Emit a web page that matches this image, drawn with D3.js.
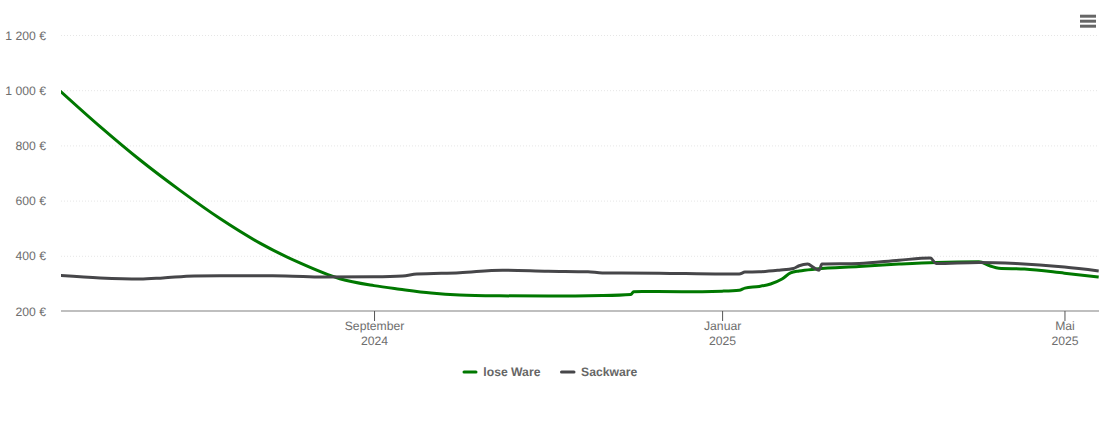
<!DOCTYPE html>
<html><head><meta charset="utf-8">
<script src="https://cdn.jsdelivr.net/npm/d3@7/dist/d3.min.js"></script>
<style>html,body{margin:0;padding:0;background:#fff}svg{display:block}text{font-family:"Liberation Sans",Arial,sans-serif;text-rendering:geometricPrecision}</style>
</head><body><svg id="c" width="1110" height="422"></svg>
<script>
const yTicks=[200,400,600,800,1000,1200];
const xTicks=[["2024-09-01","September","2024"],["2025-01-01","Januar","2025"],["2025-05-01","Mai","2025"]];
const seriesNames=["lose Ware","Sackware"];
const seriesColors=["#007800","#464649"];
const looseDates=["2024-05-14","2024-05-28","2024-06-11","2024-06-25","2024-07-09","2024-07-23","2024-08-06","2024-08-20","2024-09-01","2024-09-10","2024-09-21","2024-10-01","2024-10-15","2024-11-01","2024-11-20","2024-11-30","2024-12-01","2024-12-04","2024-12-18","2025-01-01","2025-01-07","2025-01-09","2025-01-14","2025-01-18","2025-01-22","2025-01-25","2025-01-28","2025-02-03","2025-02-18","2025-03-04","2025-03-17","2025-04-01","2025-04-05","2025-04-08","2025-04-17","2025-05-01","2025-05-13"];
const looseValues=[997,868,747,637,535,446,374,317,292,279,265,258,255,254,256,260,270,271,270,272,275,283,289,298,316,338,345,352,361,370,376,378,363,355,352,337,323];
const sackDates=["2024-05-14","2024-05-28","2024-06-11","2024-06-19","2024-06-30","2024-07-09","2024-08-01","2024-08-14","2024-09-01","2024-09-11","2024-09-16","2024-10-01","2024-10-16","2024-11-01","2024-11-15","2024-11-20","2024-12-10","2025-01-01","2025-01-07","2025-01-09","2025-01-14","2025-01-21","2025-01-26","2025-01-28","2025-01-31","2025-02-02","2025-02-04","2025-02-05","2025-02-18","2025-03-04","2025-03-15","2025-03-17","2025-04-01","2025-04-14","2025-05-01","2025-05-13"];
const sackValues=[329,320,316,320,327,328,327,323,324,327,334,339,348,344,342,338,337,334,334,341,342,348,354,364,370,358,348,370,372,384,392,372,376,372,359,345];

const svg=d3.select("#c");
const parse=d3.utcParse("%Y-%m-%d");
const x=d3.scaleUtc().domain([parse("2024-05-14"),parse("2025-05-13")]).range([60.2,1098.7]);
const y=d3.scaleLinear().domain([200,1200]).range([311,35]);
const fmt=v=>d3.format(",")(v).replace(/,/g," ")+" €";

svg.append("clipPath").attr("id","plot").append("rect").attr("x",61).attr("y",0).attr("width",1038).attr("height",311);

// y axis + grid
const gy=svg.append("g").attr("transform","translate(61,0)")
  .call(d3.axisLeft(y).tickValues(yTicks).tickFormat(fmt).tickSize(0).tickPadding(15));
gy.select(".domain").remove();
gy.selectAll("text").attr("font-size",12.2).attr("fill","#6e6e6e").attr("y",0.2).style("font-family",'"Liberation Sans",Arial,sans-serif');
gy.selectAll(".tick").filter(d=>d!==200).append("line")
  .attr("x1",0).attr("x2",1038).attr("stroke","#e6e6e6").attr("stroke-dasharray","1,2");

// x axis
const gx=svg.append("g").attr("transform","translate(0,311)")
  .call(d3.axisBottom(x).tickValues(xTicks.map(t=>parse(t[0]))).tickSize(10).tickFormat(""));
gx.select(".domain").attr("stroke","#808080").attr("stroke-width",1.2).attr("d","M61,0H1099");
gx.selectAll(".tick line").attr("stroke","#555");
gx.selectAll(".tick").each(function(d,i){
  const t=d3.select(this).select("text").attr("font-size",12.2).attr("fill","#6e6e6e").attr("y",0).attr("dy",null)
    .attr("text-anchor","middle").style("font-family",'"Liberation Sans",Arial,sans-serif');
  t.append("tspan").attr("x",0).attr("y",19).text(xTicks[i][1]);
  t.append("tspan").attr("x",0).attr("y",34).text(xTicks[i][2]);
});

// lines
const line=d3.line().x(d=>x(d[0])).y(d=>y(d[1])).curve(d3.curveMonotoneX);
const looseData=d3.zip(looseDates.map(parse),looseValues);
const sackData=d3.zip(sackDates.map(parse),sackValues);
[looseData,sackData].forEach((data,i)=>{
  svg.append("path").attr("d",line(data)).attr("fill","none").attr("stroke",seriesColors[i])
    .attr("clip-path","url(#plot)")
    .attr("stroke-width",3).attr("stroke-linejoin","round").attr("stroke-linecap","butt");
});

// legend
const legendLine=[[464,476],[561.5,574]];
const legendText=[483.3,581];
seriesNames.forEach((n,i)=>{
  const g=svg.append("g").attr("transform","translate(0,372)");
  g.append("line").attr("x1",legendLine[i][0]).attr("x2",legendLine[i][1]).attr("stroke",seriesColors[i]).attr("stroke-width",3).attr("stroke-linecap","round");
  g.append("text").attr("x",legendText[i]).attr("y",4).attr("font-size",12.2).attr("font-weight","bold").attr("fill","#666").text(n);
});

// menu icon
[16.2,21.2,26.2].forEach(yy=>{
  svg.append("line").attr("x1",1080).attr("x2",1096).attr("y1",yy).attr("y2",yy).attr("stroke","#666").attr("stroke-width",3);
});
</script></body></html>
